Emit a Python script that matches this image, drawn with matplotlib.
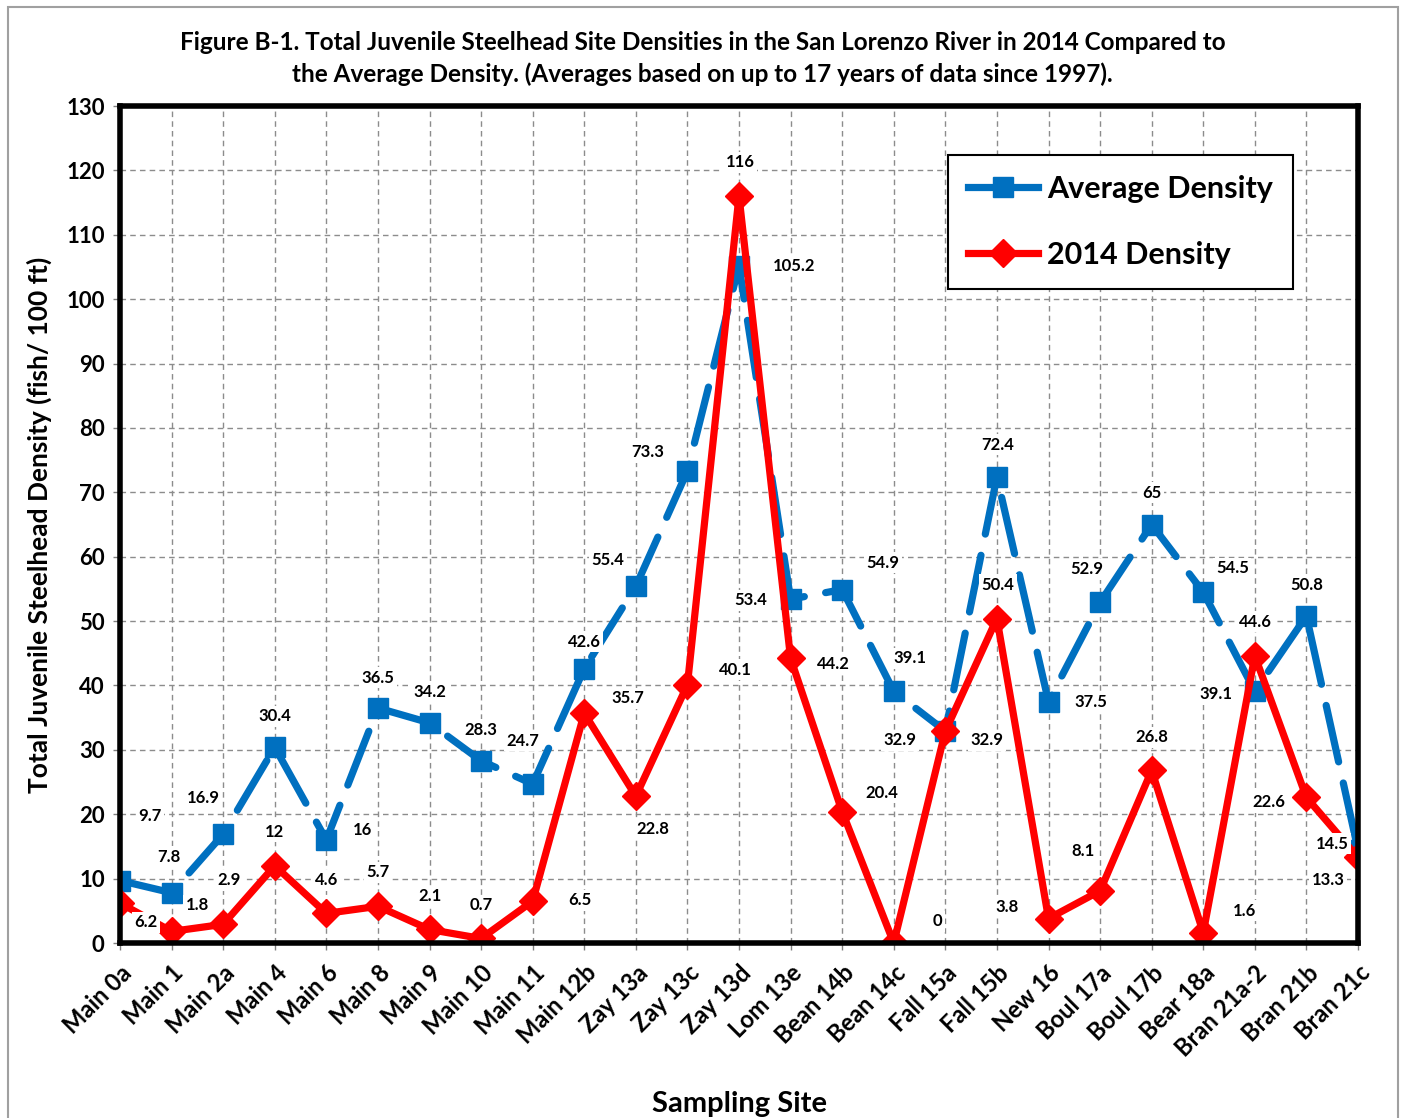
import matplotlib
matplotlib.use("Agg")
import matplotlib.pyplot as plt
from matplotlib.patches import Rectangle

plt.rcParams['font.family'] = ['Lato', 'DejaVu Sans']

# Sampling sites along the San Lorenzo River system
sites = ["Main 0a", "Main 1", "Main 2a", "Main 4", "Main 6", "Main 8", "Main 9",
         "Main 10", "Main 11", "Main 12b", "Zay 13a", "Zay 13c", "Zay 13d",
         "Lom 13e", "Bean 14b", "Bean 14c", "Fall 15a", "Fall 15b", "New 16",
         "Boul 17a", "Boul 17b", "Bear 18a", "Bran 21a-2", "Bran 21b", "Bran 21c"]

# Average density (fish / 100 ft), up to 17 years of data since 1997
avg_density = [9.7, 7.8, 16.9, 30.4, 16, 36.5, 34.2, 28.3, 24.7, 42.6, 55.4, 73.3,
               105.2, 53.4, 54.9, 39.1, 32.9, 72.4, 37.5, 52.9, 65, 54.5, 39.1,
               50.8, 14.5]

# 2014 density (fish / 100 ft)
density_2014 = [6.2, 1.8, 2.9, 12, 4.6, 5.7, 2.1, 0.7, 6.5, 35.7, 22.8, 40.1, 116,
                44.2, 20.4, 0, 32.9, 50.4, 3.8, 8.1, 26.8, 1.6, 44.6, 22.6, 13.3]

y_ticks = list(range(0, 131, 10))

# Label placement offsets (pixels) relative to each marker
avg_offsets = [(30, 65), (-3, 36), (-20, 36), (0, 31), (36, 10), (0, 30), (0, 31),
               (0, 31), (-10, 43), (0, 27), (-28, 26), (-40, 19), (55, 0),
               (-40, -1), (41, 27), (16, 33), (-45, -9), (1, 32), (42, 0),
               (-13, 33), (0, 32), (29, 24), (-39, -3), (0, 31), (-26, 6)]
d14_offsets = [(26, -19), (26, 26), (6, 44), (0, 34), (0, 33), (0, 34), (0, 33),
               (0, 33), (47, 1), (44, 15), (17, -33), (48, 15), (1, 34), (43, -6),
               (40, 19), (44, 22), (42, -9), (1, 34), (-41, 12), (-17, 40),
               (0, 33), (41, 22), (1, 34), (-38, -5), (-30, -23)]

BLUE = "#0070C0"
RED = "#FF0000"

W, H = 1403, 1118
fig = plt.figure(figsize=(W / 100, H / 100), dpi=100)
fig.patches.append(Rectangle((8 / W, -0.01), 1390 / W, 1.01 - 7 / H,
                             transform=fig.transFigure, fill=False,
                             edgecolor="#A0A0A0", lw=1.5))

ax = fig.add_axes([120 / W, 1 - 943 / H, 1238 / W, 837 / H])
x = list(range(len(sites)))

ax.plot(x, avg_density, color=BLUE, lw=5.2, ls=(0, (8, 3)), dash_capstyle="round",
        marker="s", ms=15, mec=BLUE, mfc=BLUE, zorder=3, label="Average Density")
ax.plot(x, density_2014, color=RED, lw=5.2, marker="D", ms=14, mec=RED, mfc=RED,
        zorder=4, label="2014 Density")

def fmt(v):
    return f"{v:g}"

for vals, offs in ((avg_density, avg_offsets), (density_2014, d14_offsets)):
    for xi, v, (dx, dy) in zip(x, vals, offs):
        ax.annotate(fmt(v), (xi, v), xytext=(dx, dy), textcoords="offset pixels",
                    ha="center", va="center", fontsize=12, fontweight="bold",
                    bbox=dict(boxstyle="square,pad=0.15", fc="white", ec="none"),
                    zorder=6, annotation_clip=False)

ax.set_xlim(0, len(sites) - 1)
ax.set_ylim(0, 130)
ax.set_yticks(y_ticks)
ax.set_yticklabels([str(t) for t in y_ticks], fontsize=16, fontweight="bold")
ax.set_xticks(x)
ax.set_xticklabels(sites, rotation=45, ha="right", rotation_mode="anchor",
                   fontsize=17, fontweight="bold")
ax.tick_params(axis="both", length=5, width=1, color="#808080", pad=6)
ax.tick_params(axis="x", pad=8)
ax.grid(True, color="#8C8C8C", ls=(0, (4, 3)), lw=1)
ax.set_axisbelow(True)
for s in ax.spines.values():
    s.set_linewidth(4)
    s.set_color("black")
    s.set_zorder(5)

ax.set_ylabel("Total Juvenile Steelhead Density (fish/ 100 ft)", fontsize=19,
              fontweight="bold", labelpad=10)
ax.set_xlabel("Sampling Site", fontsize=21, fontweight="bold", labelpad=22)

fig.text(0.5 * (175 + 1230) / W, 1 - 43 / H,
         "Figure B-1. Total Juvenile Steelhead Site Densities in the San Lorenzo River in 2014 Compared to",
         ha="center", va="center", fontsize=17.5, fontweight="bold")
fig.text(0.5 * (175 + 1230) / W, 1 - 74 / H,
         "the Average Density. (Averages based on up to 17 years of data since 1997).",
         ha="center", va="center", fontsize=17.5, fontweight="bold")

leg = ax.legend(loc="upper left", bbox_to_anchor=(948 / W, 1 - 155 / H),
                bbox_transform=fig.transFigure, borderaxespad=0,
                prop=dict(weight="bold", size=22), frameon=True, fancybox=False,
                edgecolor="black", framealpha=1, handlelength=2.3,
                labelspacing=1.25, borderpad=0.65, handletextpad=0.3)
leg.get_frame().set_linewidth(1.5)
leg.set_zorder(10)
for h in leg.get_lines():
    h.set_linestyle("-")

fig.savefig("out.png", dpi=100)
